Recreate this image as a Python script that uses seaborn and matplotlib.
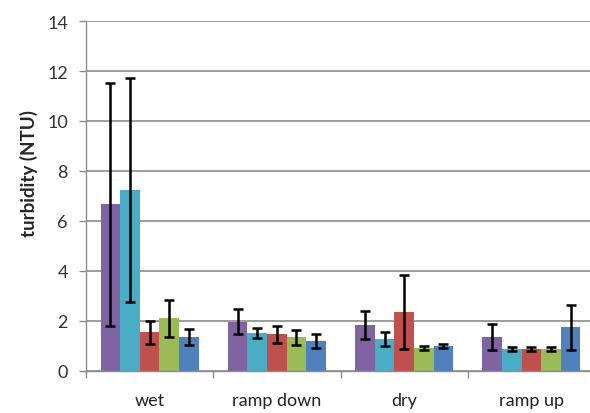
import numpy as np
import pandas as pd
import seaborn as sns
import matplotlib.pyplot as plt

phases = ["wet", "ramp down", "dry", "ramp up"]
series = ["s1", "s2", "s3", "s4", "s5"]
colors = ["#8064A2", "#4BACC6", "#C0504D", "#9BBB59", "#4F81BD"]

# mean turbidity per series, ordered by phase
s1 = [6.67, 1.97, 1.83, 1.36]
s2 = [7.25, 1.52, 1.28, 0.87]
s3 = [1.55, 1.47, 2.37, 0.87]
s4 = [2.11, 1.36, 0.93, 0.87]
s5 = [1.36, 1.21, 1.01, 1.75]

# error bar half-lengths
e1 = [4.87, 0.50, 0.56, 0.51]
e2 = [4.47, 0.20, 0.29, 0.08]
e3 = [0.45, 0.34, 1.48, 0.08]
e4 = [0.75, 0.30, 0.07, 0.08]
e5 = [0.32, 0.28, 0.09, 0.89]

vals = [s1, s2, s3, s4, s5]
errs = [e1, e2, e3, e4, e5]

rows = []
for name, v in zip(series, vals):
    for ph, y in zip(phases, v):
        rows.append({"phase": ph, "series": name, "turbidity": y})
df = pd.DataFrame(rows)

sns.set_style("white")
plt.rcParams["font.family"] = ["Lato", "DejaVu Sans"]

fig = plt.figure(figsize=(5.9, 4.14), dpi=100)
ax = fig.add_axes([86 / 590, 42 / 414, 509 / 590, 350 / 414])

sns.barplot(data=df, x="phase", y="turbidity", hue="series", order=phases,
            hue_order=series, palette=colors, width=0.77, gap=0,
            errorbar=None, saturation=1, linewidth=0, legend=False, ax=ax)

for cont, err in zip(ax.containers, errs):
    xs = [b.get_x() + b.get_width() / 2 for b in cont]
    hs = [b.get_height() for b in cont]
    ax.errorbar(xs, hs, yerr=err, fmt="none", ecolor="black",
                elinewidth=1.8, capsize=3.5, capthick=1.8, zorder=5)

ax.set_ylim(0, 14)
ax.set_xlim(-0.5, 3.5)
ax.set_yticks(np.arange(0, 15, 2))
ax.yaxis.grid(True, color="#8c8c8c", linewidth=1.2)
ax.set_axisbelow(True)

ax.set_xticks(np.arange(-0.5, 4, 1), minor=True)
ax.tick_params(axis="x", which="major", length=0, pad=15, labelsize=13,
               labelcolor="#222222")
ax.tick_params(axis="x", which="minor", length=5, width=1, color="#8c8c8c",
               direction="out", bottom=True)
ax.tick_params(axis="y", length=5, width=1, color="#8c8c8c", direction="out",
               left=True, labelsize=13, labelcolor="#333333", pad=8)

for side in ["top", "right"]:
    ax.spines[side].set_visible(False)
for side in ["left", "bottom"]:
    ax.spines[side].set_color("#8c8c8c")
    ax.spines[side].set_linewidth(1)

ax.set_xlabel("")
ax.set_ylabel("turbidity (NTU)", fontsize=13.5, fontweight="bold")
ax.yaxis.set_label_coords(-0.094, 0.566)

fig.savefig("out.png", dpi=100)
